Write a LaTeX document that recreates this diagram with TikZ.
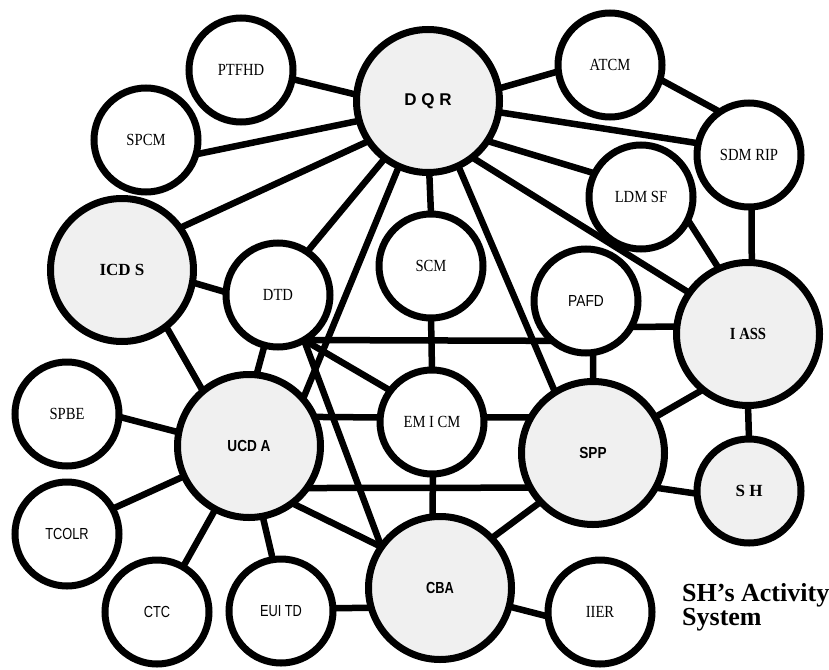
\documentclass[tikz,border=0pt]{standalone}
\usepackage{fontspec}
\usepackage{graphicx}
\setmainfont{Liberation Serif}
\newfontfamily\lsans{Liberation Sans}
\usetikzlibrary{backgrounds}
\definecolor{hubfill}{RGB}{240,240,240}
% horizontally condensed label text
\newcommand\narrowlbl[2][0.86]{\scalebox{#1}[1]{#2}}

\tikzset{
  ring/.style={circle, draw=black, line width=7pt, inner sep=0pt, outer sep=0pt},
  minor/.style={ring, fill=white, minimum size=104pt, font=\fontsize{17}{19}\selectfont},
  major/.style={ring, fill=hubfill, minimum size=143pt},
  hubsans/.style={font=\lsans\bfseries\fontsize{16}{18}\selectfont},
  hubserif/.style={font=\bfseries\fontsize{17}{19}\selectfont},
  link/.style={line width=6.5pt, draw=black},
}

\begin{document}
\begin{tikzpicture}[x=1pt, y=-1pt]
\useasboundingbox (0,0) rectangle (829,669);

% hubs
\node[major, font=\lsans\bfseries\fontsize{17}{19}\selectfont] (dqr) at (428,101) {D Q R};
\node[major, hubserif] (icds) at (122,270) {ICD S};
\node[major, hubserif] (iass) at (748,334) {\narrowlbl{I ASS}};
\node[major, hubsans] (ucda) at (249,446) {\narrowlbl[0.85]{UCD A}};
\node[major, hubsans] (spp) at (593,453) {\narrowlbl[0.85]{SPP}};
\node[major, hubsans] (cba) at (440,588) {\narrowlbl[0.8]{CBA}};

% smaller circles
\node[minor] (ptfhd) at (241,70) {\narrowlbl{PTFHD}};
\node[minor] (spcm) at (146,140) {\narrowlbl{SPCM}};
\node[minor] (atcm) at (610,65) {\narrowlbl{ATCM}};
\node[minor] (sdmrip) at (749,155) {\narrowlbl{SDM RIP}};
\node[minor] (ldmsf) at (641,197) {\narrowlbl{LDM SF}};
\node[minor] (dtd) at (278,295) {\narrowlbl{DTD}};
\node[minor] (scm) at (431,266) {\narrowlbl{SCM}};
\node[minor] (pafd) at (586,301) {\lsans\fontsize{16}{18}\selectfont\narrowlbl{PAFD}};
\node[minor] (emicm) at (432,422) {\narrowlbl{EM I CM}};
\node[major, hubserif, minimum size=104pt] (sh) at (749,491) {S H};
\node[minor] (iier) at (600,612) {\narrowlbl{IIER}};
\node[minor] (spbe) at (67,414) {\narrowlbl{SPBE}};
\node[minor] (tcolr) at (67,534) {\lsans\fontsize{16}{18}\selectfont\narrowlbl[0.8]{TCOLR}};
\node[minor] (ctc) at (157,612) {\lsans\fontsize{16}{18}\selectfont\narrowlbl[0.8]{CTC}};
\node[minor] (euitd) at (281,611) {\lsans\fontsize{16}{18}\selectfont\narrowlbl[0.8]{EUI TD}};

% caption
\node[anchor=north west, inner sep=0pt, align=left,
      font=\bfseries\fontsize{26}{24}\selectfont] (caption) at (682,583)
      {SH's Activity\\System};

% connectors, kept beneath the circles
\begin{scope}[on background layer]
  \draw[link] (ptfhd.-10) -- (dqr.175);
  \draw[link] (spcm.-16) -- (dqr.196);
  \draw[link] (icds.36) -- (dqr.214);
  \draw[link] (dtd.56) -- (dqr.233);
  \draw[link] (ucda.41) -- (dqr.246);
  \draw[link] (scm.90) -- (dqr.-89);
  \draw[link] (spp.122) -- (dqr.-65);
  \draw[link] (iass.145) -- (dqr.-52);
  \draw[link] (ldmsf.153) -- (dqr.-34);
  \draw[link] (sdmrip.167) -- (dqr.-9);
  \draw[link] (atcm.187) -- (dqr.10);
  \draw[link] (atcm.-16) -- (sdmrip.124);
  \draw[link] (sdmrip.-87) -- (iass.87);
  \draw[link] (ldmsf.-26) -- (iass.114);
  \draw[link] (pafd.-30) -- (iass.174);
  \draw[link] (pafd.-82) -- (spp.90);
  \draw[link] (iass.231) -- (spp.30);
  \draw[link] (iass.-90) -- (sh.90);
  \draw[link] (spp.-29) -- (sh.183);
  \draw[link] (ucda.-36) -- (spp.209);
  \draw[link] (ucda.24) -- (emicm.175);
  \draw[link] (emicm.5) -- (spp.150);
  \draw[link] (dtd.-60) -- (pafd.230);
  \draw[link] (dtd.-60) -- (emicm.143);
  \draw[link] (dtd.-60) -- (cba.145);
  \draw[link] (ucda.-53) -- (cba.145);
  \draw[link] (scm.-90) -- (emicm.90);
  \draw[link] (emicm.-89) -- (cba.96);
  \draw[link] (cba.44) -- (spp.223);
  \draw[link] (cba.-15) -- (iier.185);
  \draw[link] (cba.196) -- (euitd.3);
  \draw[link] (ucda.-79) -- (euitd.99);
  \draw[link] (ucda.242) -- (ctc.60);
  \draw[link] (ucda.205) -- (tcolr.29);
  \draw[link] (ucda.169) -- (spbe.-3);
  \draw[link] (ucda.130) -- (icds.-52);
  \draw[link] (ucda.84) -- (dtd.255);
  \draw[link] (icds.-10) -- (dtd.177);
\end{scope}
\end{tikzpicture}
\end{document}
